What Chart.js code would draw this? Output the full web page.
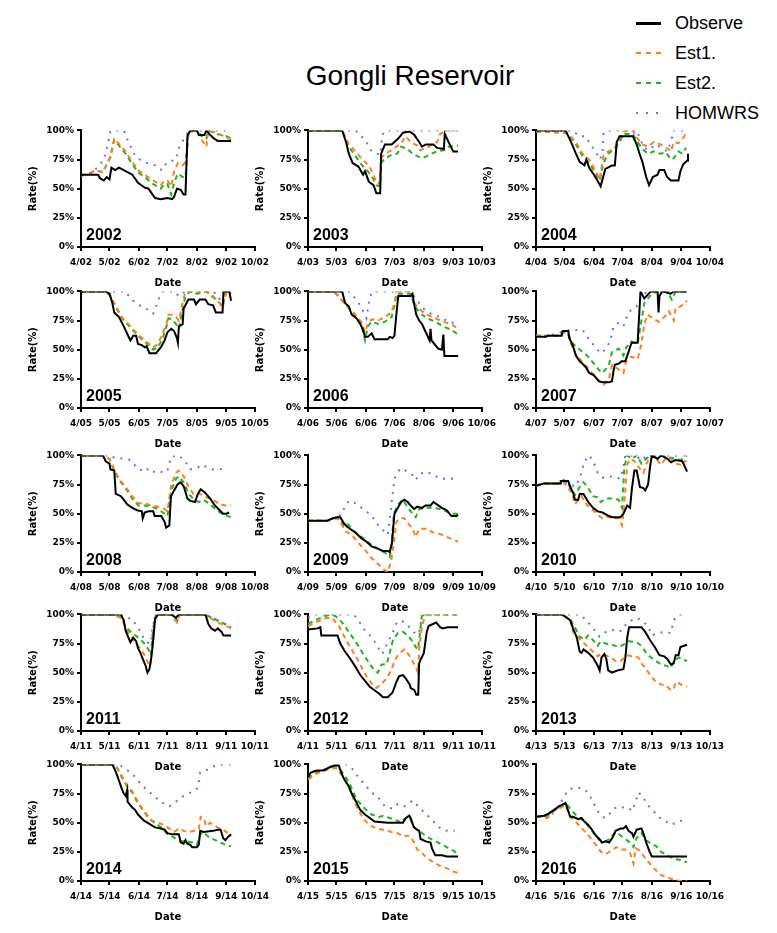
<!DOCTYPE html>
<html>
<head>
<meta charset="utf-8">
<script src="https://cdn.jsdelivr.net/npm/chart.js@4.4.1/dist/chart.umd.min.js"></script>
<style>
  body { margin: 0; background: #fff; width: 777px; height: 933px; position: relative; overflow: hidden;
         font-family: "Liberation Sans", Arial, sans-serif; }
  #title { position: absolute; left: 410px; top: 62px; transform: translateX(-50%); white-space: nowrap;
           font-size: 28px; line-height: 28px; color: #000; }
  .lg-text { position: absolute; left: 675px; font-size: 18px; line-height: 18px; color: #000; white-space: nowrap; }
  .lg-line { position: absolute; left: 636px; width: 25px; }
  canvas.panel { position: absolute; }
</style>
</head>
<body>
<div id="title">Gongli Reservoir</div>
<div id="legend"></div>

<script>
// ---- axis definitions ----
const MONTH_DAYS = [0, 30, 61, 91, 122, 153, 183];   // days after 1 April
const MONTH_NUMS = [4, 5, 6, 7, 8, 9, 10];
const Y_TICKS = [0, 25, 50, 75, 100];
const YEARS = ["02", "03", "04", "05", "06", "07", "08", "09", "10", "11", "12", "13", "14", "15", "16"];
// year suffix printed on the date ticks (the 2012 panel is labelled with /11 in the original)
const TICK_YY = ["02", "03", "04", "05", "06", "07", "08", "09", "10", "11", "11", "13", "14", "15", "16"];
const SERIES = ["Observe", "Est1.", "Est2.", "HOMWRS"];

// ---- data: [day after 1 April, storage rate %] ----
const obs02 = [[0,62],[18,62],[20,59],[24,57],[27,60],[30,58],[32,68],[36,66],[40,68],[45,66],[54,62],[60,55],[67,51],[71,50],[78,42],[84,41],[91,42],[96,41],[98,43],[101,50],[105,49],[108,45],[110,45],[112,95],[115,100],[122,100],[124,96],[130,96],[132,100],[136,96],[140,93],[144,91],[158,91]];
const e1_02 = [[0,61],[9,63],[16,66],[23,64],[31,78],[35,93],[47,82],[54,73],[60,66],[67,62],[74,58],[84,53],[88,57],[91,57],[95,52],[98,65],[102,72],[107,70],[110,73],[113,98],[119,100],[122,100],[127,92],[132,86],[134,100],[143,98],[153,94],[158,92]];
const e2_02 = [[0,61],[9,63],[16,66],[23,64],[31,77],[35,92],[47,80],[54,71],[60,64],[67,60],[74,55],[84,50],[88,54],[91,54],[95,45],[98,55],[102,63],[107,60],[110,60],[113,97],[119,100],[122,100],[127,95],[132,93],[134,100],[143,97],[153,95],[158,93]];
const hw02 = [[0,62],[10,63],[17,68],[24,75],[28,87],[31,99],[35,100],[45,100],[49,92],[53,85],[57,78],[62,75],[70,72],[78,70],[82,67],[86,66],[90,72],[96,74],[100,75],[103,85],[108,92],[111,96],[113,100],[158,100]];

const obs03 = [[0,100],[36,100],[40,90],[43,80],[47,72],[53,69],[58,62],[60,65],[64,56],[69,53],[72,46],[76,46],[77,80],[81,88],[88,88],[95,93],[100,98],[107,99],[112,96],[117,90],[120,86],[124,88],[132,88],[136,85],[143,84],[144,97],[148,90],[151,85],[153,82],[158,82]];
const e1_03 = [[0,100],[36,100],[43,88],[50,82],[57,75],[64,70],[69,62],[72,55],[75,54],[77,76],[81,80],[86,82],[91,85],[98,89],[103,95],[108,90],[115,87],[118,83],[125,85],[131,88],[136,90],[139,97],[146,100],[158,100]];
const e2_03 = [[0,100],[36,100],[43,86],[50,78],[57,70],[64,64],[69,58],[72,53],[76,52],[77,72],[81,76],[88,79],[94,80],[98,86],[105,84],[110,80],[115,78],[120,76],[125,78],[130,80],[136,82],[143,83],[148,86],[158,87]];
const hw03 = [[0,100],[50,100],[60,92],[67,82],[73,80],[76,79],[78,96],[82,100],[158,100]];

const obs04 = [[0,100],[31,100],[37,90],[42,80],[46,73],[51,70],[53,75],[56,68],[61,62],[64,58],[68,52],[70,58],[73,67],[80,70],[83,70],[85,90],[88,95],[102,95],[106,88],[109,80],[112,73],[116,60],[119,53],[123,60],[128,62],[130,66],[135,66],[138,60],[142,57],[150,57],[152,65],[155,71],[159,74],[160,80]];
const e1_04 = [[0,99],[31,98],[34,97],[42,90],[49,80],[56,75],[63,65],[67,58],[71,78],[76,82],[83,85],[87,92],[92,99],[102,100],[107,93],[112,88],[118,86],[124,90],[131,88],[136,86],[142,82],[145,90],[150,89],[154,92],[157,96],[159,95]];
const e2_04 = [[0,99],[31,98],[34,97],[42,88],[49,78],[56,72],[63,63],[67,57],[71,72],[76,80],[83,84],[88,90],[92,97],[102,97],[107,90],[112,84],[118,80],[124,82],[131,80],[137,81],[142,75],[145,76],[150,82],[154,80],[158,85]];
const hw04 = [[0,100],[38,100],[46,95],[52,95],[59,86],[64,80],[67,75],[70,80],[71,97],[74,100],[106,100],[111,90],[114,85],[119,83],[126,88],[132,85],[138,82],[142,90],[145,100],[158,100]];

const obs05 = [[0,100],[26,100],[30,98],[33,90],[35,82],[40,78],[45,70],[49,63],[52,58],[55,62],[58,62],[60,55],[64,54],[67,52],[69,53],[72,47],[79,47],[84,52],[88,58],[91,65],[95,68],[98,66],[101,60],[102,56],[103,70],[107,72],[108,85],[113,93],[119,93],[121,89],[125,93],[131,93],[134,89],[139,88],[142,82],[149,82],[150,100],[156,100],[158,92]];
const e1_05 = [[0,100],[26,100],[30,97],[35,90],[43,78],[52,70],[60,63],[67,58],[76,52],[81,55],[86,64],[90,72],[92,80],[96,80],[100,78],[103,75],[107,90],[110,100],[122,100],[132,100],[139,96],[146,90],[149,86],[153,100],[158,98]];
const e2_05 = [[0,100],[26,100],[30,97],[35,89],[43,77],[52,69],[60,62],[67,57],[76,50],[81,52],[86,60],[90,70],[92,77],[96,76],[100,72],[103,68],[107,85],[110,96],[115,100],[122,98],[132,100],[139,95],[146,90],[149,87],[153,100],[158,98]];
const hw05 = [[0,100],[47,100],[52,94],[59,89],[64,87],[71,84],[76,81],[79,87],[83,96],[86,100],[98,100],[103,96],[108,99],[112,100],[140,100],[143,95],[147,93],[152,100],[158,100]];

const obs06 = [[0,100],[36,100],[39,90],[43,87],[46,80],[51,77],[55,72],[58,67],[60,61],[63,61],[67,64],[70,59],[84,59],[86,61],[89,60],[91,62],[93,80],[95,96],[108,96],[110,98],[112,88],[114,80],[117,75],[120,72],[124,65],[128,58],[129,68],[130,58],[134,54],[137,51],[141,50],[142.5,63],[143.6,44.5],[158,44.5]];
const e1_06 = [[0,100],[26,100],[31,97],[36,92],[43,86],[50,80],[56,74],[60,65],[63,72],[67,76],[74,75],[81,78],[88,82],[91,90],[93,100],[108,100],[112,90],[117,85],[125,80],[134,77],[142,74],[151,72],[158,68]];
const e2_06 = [[0,100],[26,100],[31,97],[36,92],[43,86],[50,79],[56,72],[60,58],[63,70],[67,74],[74,72],[81,74],[88,78],[91,88],[93,98],[108,98],[112,88],[117,82],[125,77],[134,74],[142,70],[151,67],[158,63]];
const hw06 = [[0,100],[43,100],[50,94],[55,88],[58,83],[61.5,77],[65,95],[68,100],[108,100],[115,92],[122,85],[129,81],[139,78],[146,75],[153,73],[158,72]];

const obs07 = [[0,61],[11,61],[12,62],[27,62],[28,66],[34,66],[35,60],[39,53],[42,45],[46,40],[49,38],[52.5,35],[56,30],[61,28],[66,23],[70,22],[76.5,22],[80,23],[81.6,32],[83,37],[87,38],[90,40],[94,40],[97,47],[100.5,56],[107,56],[110,100],[114,94],[117.6,97],[121,100],[128,100],[129,82],[130,96],[133,100],[141.7,98],[145,100],[159,100]];
const e1_07 = [[0,62],[27,62],[28,65],[33,65],[37,55],[42,45],[46,42],[52.5,36],[59,30],[66,24],[71,20],[76.5,24],[80,37],[87,33],[92,30],[95,40],[100.5,44],[107,42],[111,55],[114,72],[117.6,80],[124.5,76],[129.6,74],[135,78],[140,83],[143,78],[145,75],[147,86],[152,87],[159,92]];
const e2_07 = [[0,62],[27,62],[28,65],[33,65],[39,55],[46,50],[52.5,46],[59,40],[66,33],[69.6,30],[76.5,36],[80,48],[87,51],[92,45],[95,52],[100.5,57],[107,55],[111,75],[114,90],[121,97],[128,100],[138,100],[143,93],[147,100],[159,100]];
const hw07 = [[0,62],[11,62],[18,63],[27,65],[37,67],[49,67],[52.5,63],[57.6,57],[62.8,52],[68,47],[73,50],[78,57],[81.6,70],[87,73],[92,70],[95,77],[100.5,85],[105.6,87],[110.8,95],[117,100],[159,100]];

const obs08 = [[0,100],[23,100],[26,95],[30,93],[31,88],[35,87],[36.6,67],[42,65],[45,62],[48.6,58],[54,55],[59,53],[64,52],[65,46],[67,51],[71,52],[76,52],[77.6,48],[84.5,48],[88,43],[89.6,38],[93,40],[94.7,65],[98,70],[101.6,75],[105,77],[108.4,73],[112,63],[115,61],[120,60],[123,67],[126,71],[130.6,68],[136,63],[141,57],[146,53],[149.5,50],[153,50],[156,51]];
const e1_08 = [[0,100],[23,100],[30,97],[35,88],[40,80],[47,73],[54,65],[60.5,59],[67,59],[74,57],[81,56],[88,54],[91,52],[95,75],[100,85],[103,87],[108,82],[113.5,73],[119,66],[125.5,67],[132,64],[139,62],[146,58],[153,57],[158,57]];
const e2_08 = [[0,100],[23,100],[30,97],[35,87],[40,79],[47,72],[54,63],[60.5,57],[67,57],[74,56],[81,54],[88,50],[91,48],[95,70],[100,80],[103,82],[108,77],[113.5,67],[119,62],[124,60],[129,62],[136,58],[143,53],[150,49],[158,47]];
const hw08 = [[0,100],[30,100],[35,98],[47,97],[52,96],[60.5,88],[65.7,87],[69,89],[74,85],[80,87],[88,85],[91,87],[95,99],[101.6,100],[108,97],[115,88],[122,89],[127,92],[132,90],[139,88],[146,88],[153,89]];

const obs09 = [[0,44],[20.5,44],[25.6,46],[31,47],[34,47],[37.6,42],[41,39],[46,36],[51,33],[56,29],[61.6,26],[67,22],[73.5,20],[78.7,18],[84,18],[86,17],[88.4,25],[91,50],[94.6,55],[98,60],[101.4,62],[105,60],[108,57],[111.7,54],[115,56],[120,55],[123.7,57],[129,57],[132,60],[135.7,58],[140.8,55],[146,53],[151,48],[156,48],[158,49]];
const e1_09 = [[0,44],[20.5,44],[31,46],[36,40],[39,35],[46,32],[53,25],[60,19],[67,12],[73.5,7],[80,2],[84,0],[87.7,10],[90.4,25],[93,43],[96,46],[101.4,46],[105,42],[110,37],[113.4,30],[117,37],[123.7,37],[132,34],[141,32],[149,29],[158,26]];
const e2_09 = [[0,44],[20.5,44],[31,47],[34,44],[37.6,40],[41,42],[46,37],[53,32],[60,28],[67,23],[73.5,20],[80,17],[84,15],[86,13],[87.7,20],[90.4,50],[94.6,58],[100,62],[103,58],[108,52],[113.4,47],[117,54],[125,55],[134,55],[142.5,53],[151,50],[158,50]];
const hw09 = [[0,44],[20.5,44],[31,47],[36,50],[39,57],[43,61],[48,60],[55,56],[61.6,52],[68,47],[74,40],[79,36],[84,32],[88.4,62],[91,80],[94.6,86],[98,89],[105,86],[111.7,82],[113.4,79],[117,84],[123.7,86],[130.5,84],[139,80],[146,80],[152.8,80]];

const obs10 = [[0,74],[8.5,76],[25.6,76],[26,78],[34,78],[36,73],[39,68],[41,62],[44.5,62],[46,67],[50,67],[55,60],[60,55],[65,52],[70,51],[77,48],[80,47],[89,47],[92,50],[96,57],[99,55],[101,72],[103.6,87],[106,87],[109.4,73],[113,72],[115,70],[118,75],[120,90],[122,100],[128,97],[131.7,100],[138.5,97],[142,94],[147,96],[154,95],[157,90],[159,86]];
const e1_10 = [[0,74],[8.5,76],[25.6,76],[29,77],[34,72],[37.6,68],[41,58],[44.5,62],[48,65],[53,58],[60,53],[66.7,48],[70,46],[73.5,48],[80,46],[87,46],[90.6,40],[93,60],[96,92],[99,97],[104,95],[108,90],[113,85],[116,92],[120,100],[126.5,97],[131.7,92],[137,98],[142,97],[147,93],[152,92],[157,95],[159,95]];
const e2_10 = [[0,74],[8.5,76],[25.6,76],[29,79],[32.5,76],[37.6,72],[41,66],[46,73],[50,77],[55,72],[60,65],[65,64],[68,60],[73.5,63],[80,63],[87,62],[90.6,55],[93,90],[96,100],[101,97],[106,100],[111,93],[114.6,96],[120,100],[131.7,100],[142,98],[152,96],[159,100]];
const hw10 = [[0,74],[8.5,76],[25.6,76],[29,79],[32.5,76],[37.6,75],[41,73],[46,80],[51,95],[56.4,100],[61.6,92],[65,85],[70,81],[77,82],[84,81],[89,80],[92,90],[94,100],[106,100],[109.4,96],[114,98],[121,100],[159,100]];

const obs11 = [[0,100],[42,100],[45,95],[47,86],[50,80],[52,76],[55,80],[58,77],[60,71],[62,68],[66,60],[68,56],[70,50],[72,53],[73.5,60],[75,70],[76.6,83],[78,96],[81,100],[95,100],[100,97],[103,100],[131,100],[134,92],[137,88],[141,86],[144,88],[148,85],[150,82],[158,82]];
const e1_11 = [[0,100],[33,100],[43,97],[47,88],[52,82],[60.5,73],[67,65],[72.5,55],[75,70],[77.6,95],[80,100],[95,100],[101,93],[104,100],[129,100],[136,97],[144,93],[153,90],[158,88]];
const e2_11 = [[0,100],[33,100],[43,97],[47,89],[54,84],[60.5,80],[65.7,76],[71,70],[73.5,65],[75,80],[77.6,97],[80,100],[97,100],[101,94],[104,100],[129,100],[136,98],[146,94],[156,90],[158,89]];
const hw11 = [[0,100],[40,100],[48.6,97],[54,96],[60.5,88],[65.7,80],[69,76],[73.5,75],[75,87],[77.6,97],[79,100],[131,100],[140,96],[150,92],[158,90]];

const obs12 = [[0,87],[10,88],[13,89],[14,82],[31,82],[34,75],[39,68],[44.5,62],[50,55],[55,48],[60,43],[65,38],[70,35],[75,32],[79,29],[84,29],[89,33],[93,42],[96,47],[100,48],[103,45],[107,40],[108,37],[112,35],[114,31],[116,31],[117,58],[119,62],[122,67],[125,85],[127,90],[132,92],[135,93],[139,89],[142,88],[147,89],[158,89]];
const e1_12 = [[0,90],[10,94],[20,97],[25.6,97],[32.5,90],[37.6,82],[43,74],[48,67],[53,60],[58,52],[63,45],[68,40],[72,37],[77,40],[82.6,45],[87.7,52],[91,60],[94.6,65],[101.4,70],[106.6,65],[110,60],[113.4,55],[115.8,50],[117,70],[120,90],[123.7,100],[158,100]];
const e2_12 = [[0,92],[10,96],[20,99],[25,100],[30,98],[36,93],[43,85],[48,79],[53,73],[58,66],[63,60],[68,54],[73.5,50],[77.4,57],[82.6,57],[86,67],[89.4,78],[94.6,84],[100,85],[105,82],[110,77],[113.4,72],[115.8,70],[117.9,85],[120,100],[158,100]];
const hw12 = [[0,97],[8,100],[48,100],[53,95],[60,86],[65,82],[70,77],[75,70],[78,66],[81,70],[84,76],[89.4,85],[93,92],[98,95],[103,92],[108,88],[113.4,83],[116.8,84],[118.5,92],[122,100],[158,100]];

const obs13 = [[0,100],[27,100],[31,98],[36,95],[39,88],[43,80],[46,68],[48,67],[50,70],[55,67],[60,63],[65,56],[67,52],[69,63],[72,66],[74,62],[76,52],[80,50],[86,52],[92,53],[94,62],[96,80],[98,89],[111,89],[115,85],[120,78],[125,72],[130,65],[135,64],[138,62],[142,57],[145,58],[147,65],[150,65],[152,72],[159,74]];
const e1_13 = [[0,100],[27,100],[31,98],[36,95],[39,85],[44.5,80],[49.6,76],[55,72],[60,68],[65,64],[68,66],[73.5,65],[78.7,63],[84,60],[89,60],[92,62],[96,65],[108,63],[111,58],[116,53],[121,47],[126.5,42],[131.7,40],[137,39],[142,35],[145,36],[147,42],[150.5,41],[154,39],[159,38]];
const e2_13 = [[0,100],[27,100],[31,98],[36,96],[40,90],[43,86],[46,81],[51,78],[55,82],[60,78],[65,73],[68,77],[73.5,75],[80,74],[87,72],[92,74],[97.5,77],[106,76],[111,73],[116,67],[121,63],[126.5,60],[131.7,57],[137,56],[142,54],[145,60],[150.5,63],[156,61],[159,60]];
const hw13 = [[0,100],[46,100],[53,95],[60,88],[66.7,81],[73.5,85],[80,87],[85.5,85],[90,86],[96,93],[106,97],[111,95],[118,90],[122,82],[128,84],[135,85],[142,84],[145,95],[150.5,100],[159,100]];

const obs14 = [[0,100],[33,100],[37,93],[40,86],[43,79],[45,75],[47,73],[48.6,78],[49,68],[54,63],[57,61],[60,57],[66,52],[72,49],[78,46],[84,45],[88,44],[91,41],[96,40],[103,40],[105,33],[108,32],[110,35],[112,32],[115,31],[117,29],[122,29],[124,31],[125.5,43],[129,42],[139,43],[144,44],[147,44],[149.5,37],[152,35],[155,38],[158,40]];
const e1_14 = [[0,100],[33,100],[38,97],[43,90],[48.6,82],[54,77],[57,72],[64,63],[69,56],[74,52],[81,50],[88,48],[91,46],[98,42],[103,45],[108,43],[113.5,42],[119,43],[122,43],[124,45],[126,55],[129,54],[132,47],[136,50],[139,48],[144,46],[149.5,44],[153,42],[158,41]];
const e2_14 = [[0,100],[33,100],[38,97],[43,89],[48.6,81],[54,76],[57,71],[64,62],[69,57],[74,52],[81,48],[86,45],[91,40],[96.4,38],[101.6,35],[106.7,34],[112,34],[117,33],[122,31],[125.5,40],[129,42],[134,38],[139,36],[144,34],[149.5,32],[154.6,30],[158,30]];
const hw14 = [[0,100],[40,100],[47,96],[54,92],[60,86],[67,80],[74,75],[81,70],[88,66],[93,64],[98,67],[103,70],[108,73],[113,75],[119,77],[123,80],[125.5,93],[131,95],[136,96],[141,99],[150,100],[158,100]];

const obs15 = [[0,89],[3,93],[8,94.5],[17,95],[24,98],[29,99.5],[32.5,99],[34,95],[37.6,88],[43,81],[46,75],[50,69],[55,61],[60,57],[65,54],[70,51],[84,50],[93,50],[100,50],[103,54],[106.6,56],[108,54],[111,47],[113,45],[117,43],[118.5,36],[124,34],[129,33],[130.5,28],[134,22],[141,22],[146,21],[158,21]];
const e1_15 = [[0,87],[8.5,92],[22,96],[29,97],[32,95],[36,90],[43,81],[50,66],[55,58],[60,52],[65,48],[72,45],[78.7,44],[81,44],[87.7,42],[94.6,41],[100,38],[105,39],[108,38],[111.7,33],[115,27],[120,24],[125,20],[132,16],[139,13],[146,11],[153,8],[158,7]];
const e2_15 = [[0,88],[8.5,93],[22,97],[29,98],[33,97],[37,92],[43,85],[51,70],[60,62],[67,57],[75,55],[79,56],[86,54],[93,52],[98,50],[101,53],[106.6,55],[111.7,46],[118.5,42],[125,38],[132,35],[139,32],[146,29],[153,26],[158,23]];
const hw15 = [[0,89],[8.5,93],[22,97],[32,100],[41,100],[46,97],[51,91],[56,86],[61.6,81],[67,76],[73.5,72],[81,64],[89.4,62],[94.6,66],[101.4,64],[106.6,67],[110,69],[115,65],[122,59],[128.8,54],[135.7,48],[140.8,44],[147.7,43],[154.5,43]];

const obs16 = [[0,55],[8.5,56],[13.7,58],[19,61],[24,64],[29,66],[31,67],[34,60],[36,55],[39,55],[44.5,53],[48,54],[51,51],[55,48],[58,45],[63,39],[66.7,36],[69.4,33],[73.5,34],[77,33],[80.4,37],[83.8,43],[89,45],[92,45],[94.7,47],[97.5,43],[101,41],[102.6,38],[106,44],[111,45],[113.5,40],[116,33],[119.7,25],[122,21],[159,21]];
const e1_16 = [[0,55],[12,54],[19,60],[24,62],[31,65],[36,55],[42.8,50],[49.6,44],[56.4,38],[63,31],[68.4,25],[73.5,23],[78.7,26],[84.5,29],[89,27],[94,27],[99,24],[102.6,15],[105,28],[109.4,26],[114.6,20],[119.7,15],[125,10],[131.7,5],[138.5,3],[145,1],[152,0],[159,0]];
const e2_16 = [[0,55],[12,56],[24,63],[31,67],[36,62],[42.8,56],[49.6,52],[56.4,46],[61.6,40],[66.7,35],[73.5,34],[78.7,37],[84,42],[89,39],[94,36],[99,33],[102.6,29],[106,37],[111,41],[116,35],[121,32],[126.5,30],[131.7,25],[138.5,22],[145,19],[152,18],[159,16]];
const hw16 = [[0,55],[10,56],[18,58],[24,64],[29,72],[33,77],[39,80],[45,80],[51,79],[56,74],[60,68],[65,60],[70,55],[73,54],[77,57],[82,62],[87,64],[92,63],[97,63],[101,60],[104,66],[108,76],[113,72],[116,67],[121,62],[126,58],[132,53],[137,51],[142,48],[147,50],[154,52]];

const PANELS = [
  [obs02, e1_02, e2_02, hw02], [obs03, e1_03, e2_03, hw03], [obs04, e1_04, e2_04, hw04],
  [obs05, e1_05, e2_05, hw05], [obs06, e1_06, e2_06, hw06], [obs07, e1_07, e2_07, hw07],
  [obs08, e1_08, e2_08, hw08], [obs09, e1_09, e2_09, hw09], [obs10, e1_10, e2_10, hw10],
  [obs11, e1_11, e2_11, hw11], [obs12, e1_12, e2_12, hw12], [obs13, e1_13, e2_13, hw13],
  [obs14, e1_14, e2_14, hw14], [obs15, e1_15, e2_15, hw15], [obs16, e1_16, e2_16, hw16],
];

// ---- look ----
const COLORS = ["#000000", "#ff7f1e", "#1fb51f", "#6b6bff"];
const DASHES = [[], [5, 4], [5, 4], [2, 6]];
const COL_X = [81, 308, 535.5];        // y-axis position of each column
const ROW_Y = [130, 291, 455, 614, 764]; // top of plot area of each row
const Y_AXIS_W = 58, X_AXIS_H = 44, PAD_TOP = 8, PAD_RIGHT = 16;
const PLOT_W = 178, PLOT_H = 117;

const TICK_FONT = { family: "'DejaVu Sans', sans-serif", size: 9, weight: "bold" };
const TITLE_FONT = { family: "'DejaVu Sans', sans-serif", size: 10, weight: "bold" };

// legend (html)
const lg = document.getElementById("legend");
SERIES.forEach((name, i) => {
  const top = 14 + i * 30;
  const t = document.createElement("div");
  t.className = "lg-text";
  t.style.top = top + "px";
  t.textContent = name;
  lg.appendChild(t);
  const l = document.createElement("div");
  l.className = "lg-line";
  const cy = top + 9;
  if (i === 0) {
    l.style.top = (cy - 1.5) + "px"; l.style.height = "3px"; l.style.background = COLORS[0];
  } else if (i === 3) {
    l.style.top = (cy - 1) + "px"; l.style.height = "2px";
    l.style.background = `repeating-linear-gradient(90deg, ${COLORS[3]} 0 2px, transparent 2px 10px)`;
  } else {
    l.style.top = (cy - 1) + "px"; l.style.height = "2px";
    l.style.background = `repeating-linear-gradient(90deg, ${COLORS[i]} 0 5px, transparent 5px 10px)`;
  }
  lg.appendChild(l);
});

// year label inside the plot
const yearLabel = {
  id: "yearLabel",
  afterDraw(chart, args, opts) {
    const { ctx, chartArea } = chart;
    ctx.save();
    ctx.font = "bold 16px 'Liberation Sans', Arial, sans-serif";
    ctx.fillStyle = "#000";
    ctx.textBaseline = "alphabetic";
    ctx.fillText(opts.text, chartArea.left + 5, chartArea.bottom - 7);
    ctx.restore();
  },
};

function axisCommon() {
  return {
    grid: { display: true, drawOnChartArea: false, drawTicks: true, tickLength: 4, lineWidth: 2, tickWidth: 2, color: "#000", tickColor: "#000" },
    border: { display: true, color: "#000", width: 2 },
  };
}

function makePanel(idx) {
  const yy = YEARS[idx];
  const tyy = TICK_YY[idx];
  const col = idx % 3, row = Math.floor(idx / 3);
  const cv = document.createElement("canvas");
  cv.className = "panel";
  cv.width = Y_AXIS_W + PLOT_W + PAD_RIGHT;
  cv.height = PAD_TOP + PLOT_H + X_AXIS_H;
  cv.style.left = (COL_X[col] - Y_AXIS_W) + "px";
  cv.style.top = (ROW_Y[row] - PAD_TOP) + "px";
  document.body.appendChild(cv);

  new Chart(cv, {
    type: "line",
    data: {
      datasets: PANELS[idx].map((d, i) => ({
        label: SERIES[i],
        data: d,
        borderColor: COLORS[i],
        borderWidth: 2,
        borderDash: DASHES[i],
        pointRadius: 0,
        tension: 0,
        fill: false,
      })),
    },
    options: {
      responsive: false,
      animation: false,
      events: [],
      layout: { padding: { top: PAD_TOP, right: PAD_RIGHT, left: 0, bottom: 0 } },
      plugins: { legend: { display: false }, tooltip: { enabled: false }, yearLabel: { text: "20" + yy } },
      scales: {
        x: {
          type: "linear", min: 0, max: 183,
          afterBuildTicks: (s) => { s.ticks = MONTH_DAYS.map((v) => ({ value: v })); },
          afterFit: (s) => { s.height = X_AXIS_H; },
          ticks: { color: "#000", font: TICK_FONT, padding: 6, maxRotation: 0, autoSkip: false,
                   callback: (v, i) => MONTH_NUMS[i] + "/" + tyy },
          title: { display: true, text: "Date", color: "#000", font: TITLE_FONT, padding: { top: 0, bottom: 2 } },
          ...axisCommon(),
        },
        y: {
          min: 0, max: 100,
          afterBuildTicks: (s) => { s.ticks = Y_TICKS.map((v) => ({ value: v })); },
          afterFit: (s) => { s.width = Y_AXIS_W; },
          ticks: { color: "#000", font: TICK_FONT, padding: 3, callback: (v) => v + "%" },
          title: { display: true, text: "Rate(%)", color: "#000", font: TITLE_FONT, padding: { top: 4, bottom: 0 } },
          ...axisCommon(),
        },
      },
    },
    plugins: [yearLabel],
  });
}

YEARS.forEach((_, i) => makePanel(i));
</script>
</body>
</html>
